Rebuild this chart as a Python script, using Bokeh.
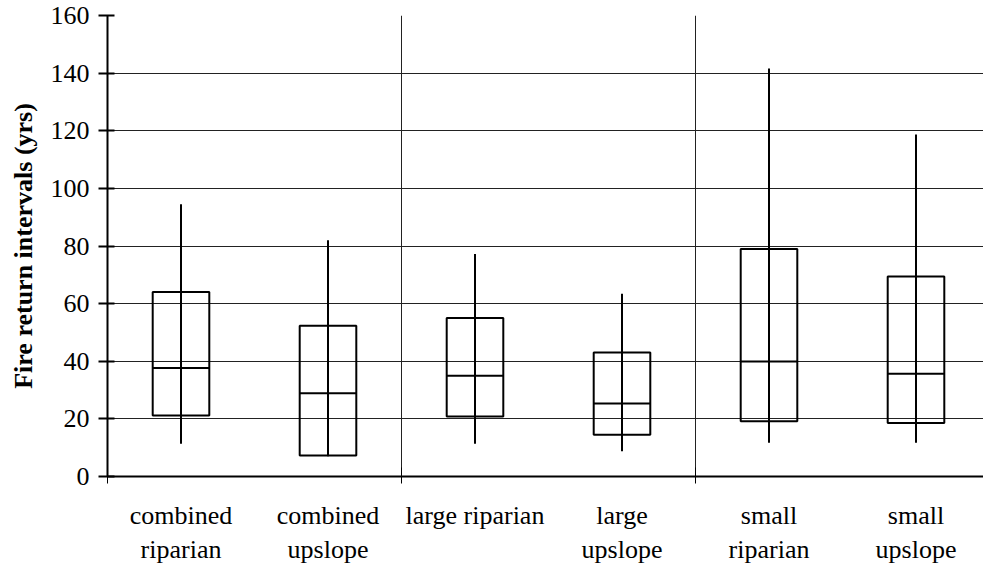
from bokeh.plotting import figure
from bokeh.models import Range1d, FixedTicker, ColumnDataSource
from bokeh.embed import file_html
from bokeh.resources import INLINE

categories = ["combined riparian", "combined upslope", "large riparian",
              "large upslope", "small riparian", "small upslope"]
tick_labels = ["combined\nriparian", "combined\nupslope", "large riparian",
               "large\nupslope", "small\nriparian", "small\nupslope"]
whisker_low = [11.4, 7.0, 11.4, 8.8, 11.7, 11.7]
q1 = [21.2, 7.3, 20.8, 14.5, 19.2, 18.6]
median = [37.7, 28.9, 35.0, 25.3, 39.9, 35.7]
q3 = [64.0, 52.3, 55.0, 43.0, 79.0, 69.4]
whisker_high = [94.5, 82.0, 77.2, 63.4, 141.6, 118.7]
y_ticks = [0, 20, 40, 60, 80, 100, 120, 140, 160]
group_bounds = [0, 2, 4, 6]

BOX_W = 0.385
xs = [i + 0.5 for i in range(len(categories))]
src = ColumnDataSource(dict(
    x=xs,
    x0=[x - BOX_W / 2 for x in xs],
    x1=[x + BOX_W / 2 for x in xs],
    lo=whisker_low, q1=q1, med=median, q3=q3, hi=whisker_high,
))

W, H = 983, 567
left, top = 107, 15
bottom = H - 477
frame_w = W - left
x_end = frame_w / 147.0

p = figure(width=W, height=H, output_backend="svg", toolbar_location=None,
           x_range=Range1d(0, x_end), y_range=Range1d(0, 160),
           min_border_left=left, min_border_right=0, min_border_top=top,
           min_border_bottom=bottom)
p.outline_line_color = None
p.background_fill_color = "white"

FONT = "'Liberation Serif'"

# y axis
p.yaxis.ticker = FixedTicker(ticks=y_ticks, minor_ticks=[])
p.yaxis.axis_label = "Fire return intervals (yrs)"
p.yaxis.axis_label_text_font = FONT
p.yaxis.axis_label_text_font_style = "bold"
p.yaxis.axis_label_text_font_size = "26px"
p.yaxis.axis_label_text_color = "black"
p.yaxis.axis_label_standoff = 10
p.yaxis.major_label_text_font = FONT
p.yaxis.major_label_text_font_size = "26px"
p.yaxis.major_label_text_color = "black"
p.yaxis.major_tick_in = 7
p.yaxis.major_tick_out = 9
p.yaxis.major_tick_line_width = 2
p.yaxis.axis_line_width = 2
p.yaxis.major_label_standoff = 9

# x axis
p.xaxis.ticker = FixedTicker(ticks=xs, minor_ticks=group_bounds)
p.xaxis.major_label_overrides = {x: lab for x, lab in zip(xs, tick_labels)}
p.xaxis.major_label_text_font = FONT
p.xaxis.major_label_text_font_size = "26px"
p.xaxis.major_label_text_color = "black"
p.xaxis.major_tick_line_color = None
p.xaxis.major_tick_in = 0
p.xaxis.major_tick_out = 7
p.xaxis.minor_tick_in = 9
p.xaxis.minor_tick_out = 7
p.xaxis.minor_tick_line_width = 1
p.xaxis.axis_line_width = 2
p.xaxis.major_label_standoff = 17

# grids
p.ygrid.ticker = FixedTicker(ticks=y_ticks[1:])
p.ygrid.grid_line_color = "#222222"
p.ygrid.grid_line_width = 1
p.xgrid.ticker = FixedTicker(ticks=group_bounds[1:3])
p.xgrid.grid_line_color = "#222222"
p.xgrid.grid_line_width = 1

# boxes
p.quad(left="x0", right="x1", bottom="q1", top="q3", source=src,
       fill_color=None, line_color="black", line_width=2)
p.segment(x0="x", y0="lo", x1="x", y1="hi", source=src,
          line_color="black", line_width=2)
p.segment(x0="x0", y0="med", x1="x1", y1="med", source=src,
          line_color="black", line_width=2)

open("out.html", "w").write(file_html(p, INLINE))
